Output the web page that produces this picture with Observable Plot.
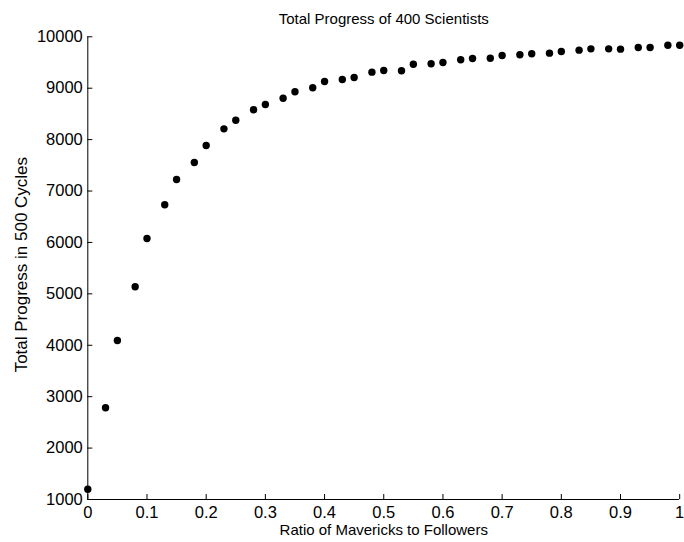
<!DOCTYPE html>
<html>
<head>
<meta charset="utf-8">
<script src="https://cdn.jsdelivr.net/npm/d3@7"></script>
<script src="https://cdn.jsdelivr.net/npm/@observablehq/plot@0.6"></script>
<style>
  html, body { margin: 0; padding: 0; background: #fff; }
  svg { display: block; }
</style>
</head>
<body>
<div id="chart"></div>
<script>
const ratio = [0, 0.03, 0.05, 0.08, 0.1, 0.13, 0.15, 0.18, 0.2, 0.23, 0.25, 0.28, 0.3,
  0.33, 0.35, 0.38, 0.4, 0.43, 0.45, 0.48, 0.5, 0.53, 0.55, 0.58, 0.6, 0.63, 0.65,
  0.68, 0.7, 0.73, 0.75, 0.78, 0.8, 0.83, 0.85, 0.88, 0.9, 0.93, 0.95, 0.98, 1.0];
const progress = [1200, 2785, 4093, 5137, 6077, 6732, 7224, 7555, 7886, 8210, 8378, 8580, 8683,
  8806, 8930, 9008, 9131, 9170, 9208, 9312, 9345, 9339, 9467, 9475, 9500, 9553, 9578,
  9584, 9636, 9650, 9669, 9682, 9714, 9740, 9766, 9766, 9760, 9792, 9792, 9837, 9837];
const xTicks = [0, 0.1, 0.2, 0.3, 0.4, 0.5, 0.6, 0.7, 0.8, 0.9, 1];
const yTicks = [1000, 2000, 3000, 4000, 5000, 6000, 7000, 8000, 9000, 10000];
const title = "Total Progress of 400 Scientists";
const xLabel = "Ratio of Mavericks to Followers";
const yLabel = "Total Progress in 500 Cycles";

const data = ratio.map((r, i) => ({ratio: r, progress: progress[i]}));
const font = "'Liberation Sans', Arial, Helvetica, sans-serif";

const chart = Plot.plot({
  width: 684,
  height: 542,
  marginLeft: 87.3,
  marginRight: 4.8,
  marginTop: 36.3,
  marginBottom: 43,
  style: {fontFamily: font, color: "#000", background: "#fff"},
  x: {domain: [0, 1]},
  y: {domain: [1000, 10000]},
  marks: [
    Plot.axisX(xTicks, {tickSize: 0, tickPadding: 7, fontSize: 16.5, label: null, tickFormat: d => String(d)}),
    Plot.axisY(yTicks, {tickSize: 0, tickPadding: 5, fontSize: 16.5, label: null, tickFormat: d => String(d)}),
    Plot.ruleX(xTicks, {x: d => d, y1: 1000, y2: 1000, insetTop: -5, stroke: "#000"}),
    Plot.ruleY(yTicks, {y: d => d, x1: 0, x2: 0, insetRight: -5, stroke: "#000"}),
    Plot.ruleX([0], {stroke: "#000"}),
    Plot.ruleY([1000], {stroke: "#000"}),
    Plot.dot(data, {x: "ratio", y: "progress", r: 3.7, fill: "#000", stroke: null}),
    Plot.text([title], {frameAnchor: "top", textAnchor: "middle", dy: -17.5, fontSize: 15, lineAnchor: "middle", fill: "#000"}),
    Plot.text([xLabel], {frameAnchor: "bottom", textAnchor: "middle", dy: 30.5, fontSize: 15, lineAnchor: "middle", fill: "#000"}),
    Plot.text([yLabel], {frameAnchor: "left", textAnchor: "middle", dx: -66, dy: -3.5, rotate: -90, fontSize: 17, lineAnchor: "middle", fill: "#000"})
  ]
});
document.getElementById("chart").appendChild(chart);
</script>
</body>
</html>
